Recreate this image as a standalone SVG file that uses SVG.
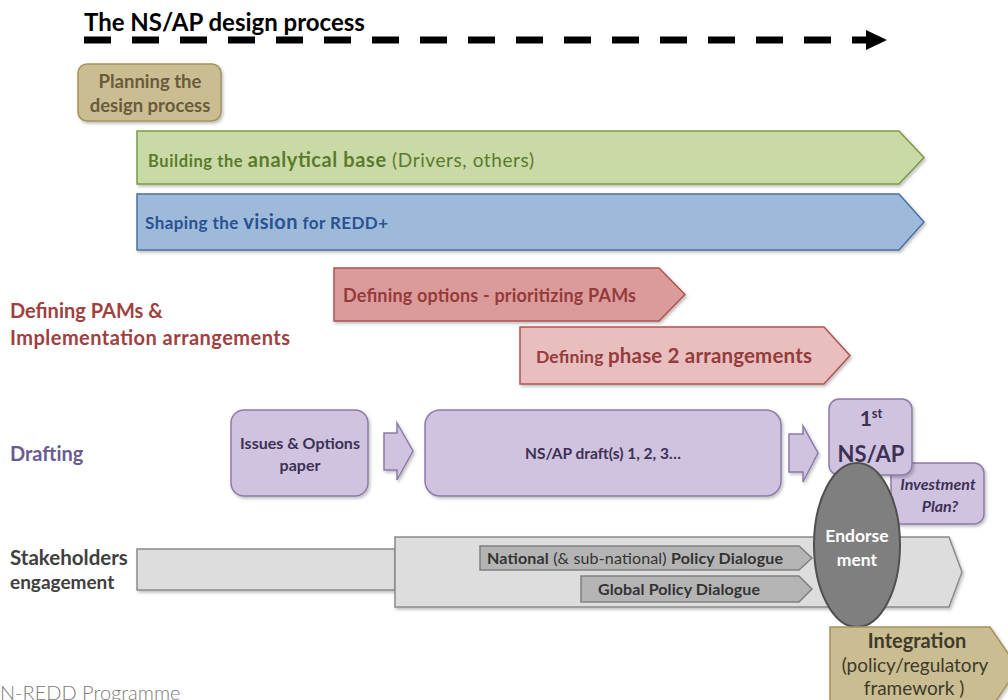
<svg xmlns="http://www.w3.org/2000/svg" width="1008" height="700" viewBox="0 0 1008 700">
<defs>
<filter id="sh" x="-10%" y="-10%" width="130%" height="140%">
<feDropShadow dx="1.5" dy="2" stdDeviation="1.5" flood-color="#000" flood-opacity="0.25"/>
</filter>
</defs>
<style>
text{font-family:Lato,"Open Sans","Liberation Sans",sans-serif;font-weight:bold}
.tan{fill:#c9bd91;stroke:#a3935f;stroke-width:1.5}
.green{fill:#c9daa6;stroke:#7b9a45;stroke-width:1.5}
.blue{fill:#9dbadb;stroke:#4b70a6;stroke-width:1.5}
.red1{fill:#dc9b9b;stroke:#b05252;stroke-width:1.5}
.red2{fill:#e8bebe;stroke:#b05252;stroke-width:1.5}
.pur{fill:#cfc3df;stroke:#8d7bab;stroke-width:1.5}
.gray{fill:#dddddd;stroke:#8a8a8a;stroke-width:1.5}
.pol{fill:#b4b4b4;stroke:#808080;stroke-width:1.5}
.endo{fill:#7f7f7f;stroke:#505050;stroke-width:2}
.reg{font-weight:normal}
.c{text-anchor:middle}
</style>

<g id="title">
<text x="84" y="31" font-size="24" fill="#000">The NS/AP design process</text>
</g>

<g id="connectors">
<line x1="84" y1="40" x2="866" y2="40" stroke="#000" stroke-width="7" stroke-dasharray="27 21"/>
<polygon points="866,30 887,40 866,50" fill="#000"/>
<polygon class="pur" points="384,433 397,433 397,423 413,451 397,480 397,470 384,470" filter="url(#sh)"/>
<polygon class="pur" points="789,434 803,434 803,426 818,453 803,482 803,472 789,472" filter="url(#sh)"/>
</g>

<g id="planning">
<rect class="tan" x="78" y="64" width="143" height="57" rx="9" filter="url(#sh)"/>
<text class="c" x="150" y="88" font-size="18.5" fill="#6b5b3c">Planning the</text>
<text class="c" x="150" y="112" font-size="18.5" fill="#6b5b3c">design process</text>
</g>

<g id="analytical">
<polygon class="green" points="137,131 899,131 924,157.5 899,184 137,184" filter="url(#sh)"/>
<text x="148" y="167" fill="#5b7a2c" textLength="386"><tspan font-size="16.5">Building the </tspan><tspan font-size="20">analytical base</tspan><tspan class="reg" font-size="19"> (Drivers, others)</tspan></text>
</g>

<g id="vision">
<polygon class="blue" points="137,194 899,194 924,222 899,250 137,250" filter="url(#sh)"/>
<text x="145" y="229" fill="#2c5190" textLength="243"><tspan font-size="17">Shaping the </tspan><tspan font-size="20">vision</tspan><tspan font-size="17"> for REDD+</tspan></text>
</g>

<g id="label-pams">
<text x="10" y="318" font-size="20" fill="#a0403f">Defining PAMs &amp;</text>
<text x="10" y="345" font-size="20" fill="#a0403f" textLength="280">Implementation arrangements</text>
</g>

<g id="options">
<polygon class="red1" points="334,268 659,268 685,294.5 659,321 334,321" filter="url(#sh)"/>
<text x="343" y="302" font-size="18" fill="#943b3b" textLength="293">Defining options - prioritizing PAMs</text>
</g>

<g id="phase2">
<polygon class="red2" points="520,327 824,327 850,355.5 824,384 520,384" filter="url(#sh)"/>
<text x="536" y="363" fill="#943b3b" textLength="276"><tspan font-size="17.5">Defining </tspan><tspan font-size="20.5">phase 2 arrangements</tspan></text>
</g>

<g id="label-drafting">
<text x="10" y="461" font-size="20" fill="#6b5b93">Drafting</text>
</g>

<g id="issues">
<rect class="pur" x="231" y="410" width="137" height="86" rx="13" filter="url(#sh)"/>
<text class="c" x="300" y="449" font-size="16" fill="#3d3154">Issues &amp; Options</text>
<text class="c" x="300" y="471" font-size="16" fill="#3d3154">paper</text>
</g>

<g id="drafts">
<rect class="pur" x="425" y="410" width="356" height="86" rx="15" filter="url(#sh)"/>
<text class="c" x="603" y="459" font-size="15.5" fill="#3d3154">NS/AP draft(s) 1, 2, 3…</text>
</g>

<g id="investment">
<rect class="pur" x="891" y="463" width="93" height="61" rx="10" filter="url(#sh)"/>
<text class="c" x="938" y="490" font-size="16" font-style="italic" fill="#3d3154">Investment</text>
<text class="c" x="940" y="512" font-size="16" font-style="italic" fill="#3d3154">Plan?</text>
</g>

<g id="first">
<rect class="pur" x="829" y="399" width="83" height="76" rx="10" filter="url(#sh)"/>
<text class="c" x="871" y="426" font-size="21" fill="#3d3154">1<tspan font-size="13" dy="-8">st</tspan></text>
<text class="c" x="871" y="462" font-size="22" fill="#3d3154">NS/AP</text>
</g>

<g id="stakeholders-label">
<text x="10" y="565" font-size="20.5" fill="#404040">Stakeholders</text>
<text x="10" y="589" font-size="19" fill="#404040">engagement</text>
</g>

<g id="engagement">
<rect class="gray" x="137" y="549" width="258" height="41" filter="url(#sh)"/>
<polygon class="gray" points="395,537 949,537 962,572 949,607 395,607" filter="url(#sh)"/>
</g>

<g id="national">
<polygon class="pol" points="480,546 799,546 812,558 799,570 480,570"/>
<text x="487" y="564" font-size="16" fill="#333" textLength="296"><tspan>National</tspan><tspan class="reg"> (&amp; sub-national) </tspan><tspan>Policy Dialogue</tspan></text>
</g>

<g id="global">
<polygon class="pol" points="581,576 799,576 812,589 799,602 581,602"/>
<text x="598" y="595" font-size="16" fill="#333" textLength="162">Global Policy Dialogue</text>
</g>

<g id="endorsement">
<ellipse class="endo" cx="857" cy="545" rx="43" ry="82"/>
<text class="c" x="857" y="542" font-size="17.5" fill="#fff">Endorse</text>
<text class="c" x="857" y="566" font-size="17.5" fill="#fff">ment</text>
</g>

<g id="integration">
<polygon class="tan" points="830,627 990,627 1018,668 990,710 830,710" filter="url(#sh)"/>
<text class="c" x="917" y="648" font-size="20" fill="#3f3a2a">Integration</text>
<text class="c reg" x="915" y="672" font-size="19" fill="#3f3a2a">(policy/regulatory</text>
<text class="c reg" x="914" y="695" font-size="19" fill="#3f3a2a">framework )</text>
</g>

<g id="footer">
<text x="0" y="700" font-size="20" fill="#7a7a7a" style="font-weight:300">N-REDD Programme</text>
</g>
</svg>
